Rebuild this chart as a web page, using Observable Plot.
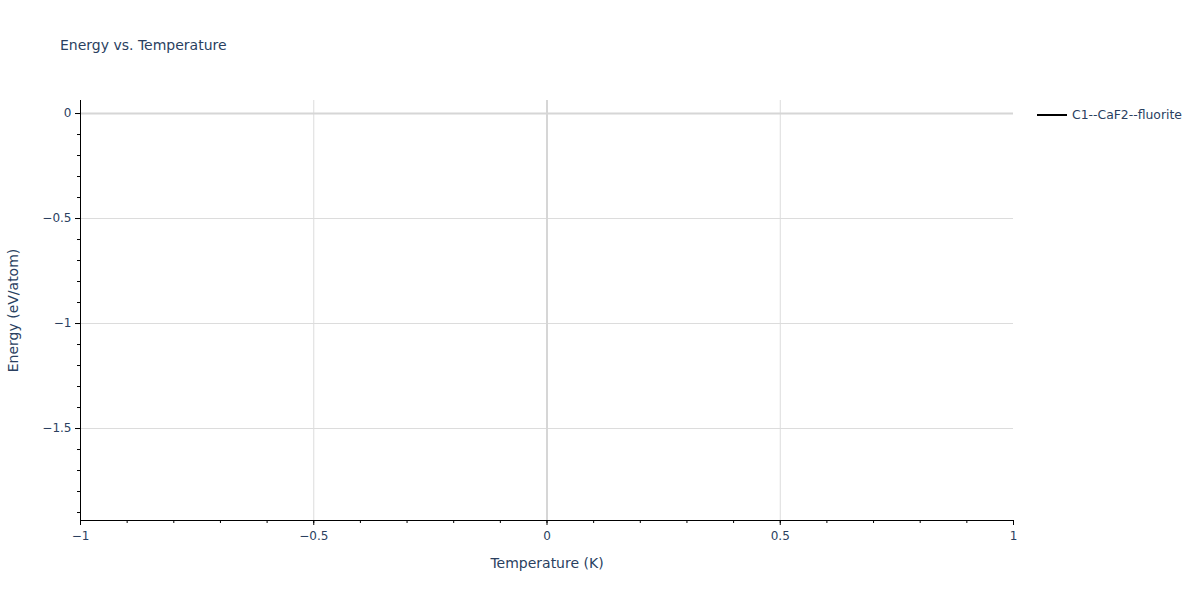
<!DOCTYPE html>
<html>
<head>
<meta charset="utf-8">
<script src="https://cdn.jsdelivr.net/npm/d3@7"></script>
<script src="https://cdn.jsdelivr.net/npm/@observablehq/plot@0.6"></script>
<style>
  html, body { margin: 0; padding: 0; background: #fff; }
  #wrap { position: relative; width: 1200px; height: 600px; font-family: "DejaVu Sans", sans-serif; }
  #title { position: absolute; left: 60px; top: 37px; font-size: 14px; color: #2a3f5f; }
  #legend { position: absolute; left: 1037px; top: 107px; font-size: 12.4px; color: #2a3f5f; display: flex; align-items: center; }
  #legend .sw { display: inline-block; width: 30px; height: 2px; background: #000; margin-right: 5px; }
  #chart { position: absolute; left: 0; top: 0; }
</style>
</head>
<body>
<div id="wrap">
  <div id="chart"></div>
  <div id="title">Energy vs. Temperature</div>
  <div id="legend"><span class="sw"></span><span>C1--CaF2--fluorite</span></div>
</div>
<script>
// Data
const seriesName = "C1--CaF2--fluorite";
const temperature = [0];
const energy = [0];

// Axis setup
const xDomain = [-1, 1];
const yDomain = [-1.938, 0.062];
const xTicks = [-1, -0.5, 0, 0.5, 1];
const yTicks = [0, -0.5, -1, -1.5];
const xMinorTicks = d3.range(-10, 11).map(d => d / 10);
const yMinorTicks = d3.range(-19, 1).map(d => d / 10);
const xGrid = [-0.5, 0.5];
const yGrid = [-0.5, -1, -1.5];

const data = temperature.map((t, i) => ({t, e: energy[i], s: seriesName}));
const fmt = d => (d < 0 ? "\u2212" + String(Math.abs(d)) : String(d));
const textColor = "#2a3f5f";

const plot = Plot.plot({
  width: 1200,
  height: 600,
  marginLeft: 80,
  marginRight: 187,
  marginTop: 100,
  marginBottom: 80,
  style: { fontFamily: "DejaVu Sans, sans-serif", fontSize: "12px", color: textColor, background: "transparent" },
  x: { domain: xDomain, label: null },
  y: { domain: yDomain, label: null },
  marks: [
    Plot.ruleX(xGrid, { stroke: "#dcdcdc", strokeWidth: 1 }),
    Plot.ruleY(yGrid, { stroke: "#dcdcdc", strokeWidth: 1 }),
    Plot.ruleX([0], { stroke: "#d6d6d6", strokeWidth: 2 }),
    Plot.ruleY([0], { stroke: "#d6d6d6", strokeWidth: 2 }),
    Plot.axisX(xMinorTicks, { tickSize: 3, text: null, label: null, stroke: "#000" }),
    Plot.axisY(yMinorTicks, { tickSize: 3, text: null, label: null, stroke: "#000" }),
    Plot.axisX(xTicks, { tickSize: 5, tickFormat: fmt, fill: textColor, stroke: "#000", tickPadding: 6, label: "Temperature (K)", labelAnchor: "center", labelArrow: "none", labelOffset: 47, fontSize: 12 }),
    Plot.axisY(yTicks, { tickSize: 5, tickFormat: fmt, fill: textColor, stroke: "#000", tickPadding: 4, label: "Energy (eV/atom)", labelAnchor: "center", labelArrow: "none", labelOffset: 72, fontSize: 12 }),
    Plot.ruleX([xDomain[0]], { stroke: "#000", strokeWidth: 1 }),
    Plot.ruleY([yDomain[0]], { stroke: "#000", strokeWidth: 1 }),
    Plot.line(data, { x: "t", y: "e", stroke: "#000", strokeWidth: 2, strokeLinecap: "butt" })
  ]
});
document.getElementById("chart").appendChild(plot);
// Enlarge axis titles
plot.querySelectorAll("g[aria-label='x-axis label'] text, g[aria-label='y-axis label'] text").forEach(t => {
  t.style.fontSize = "14px";
  t.setAttribute("fill", textColor);
});
</script>
</body>
</html>
